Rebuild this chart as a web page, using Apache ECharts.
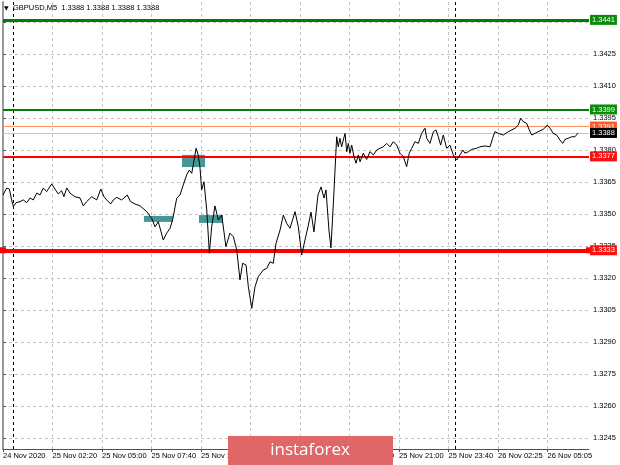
<!DOCTYPE html>
<html><head><meta charset="utf-8">
<script src="https://cdn.jsdelivr.net/npm/echarts@6/dist/echarts.min.js"></script>
<style>html,body{margin:0;padding:0;background:#fff}#c{width:620px;height:465px}</style>
</head><body><div id="c"></div>
<script>
// ---- data (bar index = 5-minute bar counted from chart's left edge) ----
const barIndex = [0,2.4,4.1,5.6,6.7,8.4,11.0,13.1,15.3,17.5,19.6,21.8,23.9,26.1,28.2,31.5,33.6,35.7,37.9,39.4,41.2,43.3,46.5,49.8,51.9,54.1,57.3,60.6,63.2,65.3,67.0,69.6,71.3,73.5,76.7,80.3,82.5,85.3,88.6,92.9,96.1,98.3,100.4,103.6,105.8,108.0,109.7,112.3,114.4,116.5,118.7,120.4,122.0,123.0,124.8,126.2,127.3,128.4,129.9,131.7,133.4,134.9,137.0,139.2,141.4,144.1,146.7,148.9,151.1,153.2,154.9,157.1,158.6,160.8,162.9,165.0,168.3,170.5,172.6,174.7,176.5,179.1,181.2,183.4,185.5,188.8,190.9,193.1,195.2,197.4,199.1,201.0,203.6,205.6,207.5,208.8,210.7,212.0,214.0,215.7,216.7,217.8,218.9,220.0,221.1,222.2,223.2,224.3,225.4,226.9,228.2,229.7,230.8,232.9,235.1,237.2,239.4,241.6,243.7,245.8,248.0,250.2,252.3,254.5,256.6,258.8,260.9,262.6,264.2,266.3,268.5,270.6,272.8,273.9,276.0,278.2,279.9,281.4,282.9,284.6,286.8,288.9,291.1,293.3,295.4,297.2,298.6,300.8,303.0,306.2,308.3,311.6,314.8,316.5,318.0,320.2,323.4,326.6,328.8,331.0,333.1,334.6,336.3,338.5,340.2,341.8,343.9,347.1,349.3,351.8,353.6,355.7,357.9,360.0,361.8,363.3,365.4,367.6,369.7,371.8];
const closePrice = [1.33589,1.33622,1.33617,1.33566,1.33534,1.33553,1.33558,1.33566,1.33553,1.33575,1.33566,1.33598,1.33589,1.33622,1.33605,1.33641,1.33617,1.33594,1.33609,1.33581,1.33622,1.33598,1.33581,1.33575,1.33538,1.33558,1.33581,1.33566,1.33617,1.33581,1.33566,1.33547,1.33566,1.33578,1.33566,1.33589,1.33558,1.33547,1.33538,1.33511,1.33480,1.33440,1.33464,1.33378,1.33410,1.33433,1.33475,1.33574,1.33589,1.33636,1.33683,1.33706,1.33691,1.33730,1.33808,1.33777,1.33722,1.33613,1.33651,1.33519,1.33316,1.33440,1.33538,1.33472,1.33495,1.33347,1.33410,1.33394,1.33331,1.33191,1.33269,1.33261,1.33159,1.33058,1.33159,1.33206,1.33238,1.33245,1.33276,1.33269,1.33363,1.33425,1.33495,1.33456,1.33433,1.33511,1.33440,1.33308,1.33378,1.33448,1.33509,1.33416,1.33589,1.33627,1.33575,1.33613,1.33425,1.33341,1.33613,1.33862,1.33815,1.33855,1.33815,1.33847,1.33878,1.33792,1.33831,1.33785,1.33823,1.33769,1.33738,1.33777,1.33745,1.33785,1.33756,1.33792,1.33777,1.33800,1.33808,1.33815,1.33831,1.33815,1.33839,1.33823,1.33785,1.33769,1.33722,1.33785,1.33808,1.33839,1.33831,1.33878,1.33902,1.33855,1.33831,1.33886,1.33894,1.33862,1.33823,1.33870,1.33808,1.33823,1.33777,1.33753,1.33777,1.33800,1.33785,1.33792,1.33803,1.33808,1.33815,1.33819,1.33815,1.33855,1.33886,1.33878,1.33870,1.33886,1.33894,1.33902,1.33917,1.33949,1.33933,1.33925,1.33894,1.33870,1.33878,1.33890,1.33897,1.33917,1.33902,1.33878,1.33870,1.33847,1.33831,1.33850,1.33855,1.33862,1.33862,1.33880];
const timeLabels = ['24 Nov 2020','25 Nov 02:20','25 Nov 05:00','25 Nov 07:40','25 Nov 10:20','25 Nov 13:00','25 Nov 15:40','25 Nov 18:20','25 Nov 21:00','25 Nov 23:40','26 Nov 02:25','26 Nov 05:05'];
const timeLabelBars = [0,32,64,96,128,160,192,224,256,288,320,352];
const priceTicks = [1.3245,1.3260,1.3275,1.3290,1.3305,1.3320,1.3335,1.3350,1.3365,1.3380,1.3395,1.3410,1.3425,1.3440];
const levels = [1.3441,1.3399,1.3391,1.3388,1.3377];
const supportLevel = [1.3333];
const separatorBars = [6.7,292.6];
const zoneStart = [91.1,115.7,126.7];
const zoneEnd = [109.9,130.6,142.2];
const zoneLow = [1.33463,1.33720,1.33458];
const zoneHigh = [1.33491,1.33777,1.33495];
const headerText = 'GBPUSD,M5  1.3388 1.3388 1.3388 1.3388';
const yMin = 1.323984, yMax = 1.344938, xMax = 378.8;

// ---- styles ----
const FONT = 'Liberation Sans';
const levelStyle = [
  {color:'#008000', width:3, bg:'#0b8a0b', fg:'#fff'},
  {color:'#008000', width:2, bg:'#0b8a0b', fg:'#fff'},
  {color:'#ff9060', width:1, bg:'#ff5a2a', fg:'#fff'},
  {color:'#cbbfe2', width:1, bg:'#000000', fg:'#fff'},
  {color:'#ff0000', width:2, bg:'#ff1010', fg:'#fff'}
];
const labelBase = {show:true, position:'end', distance:1, color:'#fff', padding:[1,2,0,2], fontSize:7.5, lineHeight:9, fontFamily:FONT};

const chart = echarts.init(document.getElementById('c'), null, {renderer:'canvas'});
const priceData = barIndex.map((b,i)=>[b, closePrice[i]]);

chart.setOption({
  animation:false,
  backgroundColor:'#ffffff',
  grid:{left:3, right:31, top:2, bottom:16, containLabel:false},
  xAxis:{
    type:'value', min:0, max:xMax, interval:16,
    axisLine:{show:true, lineStyle:{color:'#505050', width:1}},
    axisTick:{show:true, length:3, customValues:timeLabelBars, lineStyle:{color:'#505050'}},
    axisLabel:{customValues:timeLabelBars, align:'left', margin:3, fontSize:7.5, color:'#000', fontFamily:FONT,
      formatter:v=>{const k=timeLabelBars.indexOf(Math.round(v)); return k>=0?timeLabels[k]:'';}},
    splitLine:{show:true, lineStyle:{color:'#c4c4c4', type:[3,3], width:1}}
  },
  yAxis:[{
    type:'value', position:'right', min:yMin, max:yMax,
    axisLine:{show:true, lineStyle:{color:'#505050', width:1}},
    axisTick:{show:true, length:3, customValues:priceTicks, lineStyle:{color:'#505050'}},
    axisLabel:{customValues:priceTicks, margin:4, fontSize:7.5, color:'#000', fontFamily:FONT, formatter:v=>v.toFixed(4)},
    splitLine:{show:true, customValues:priceTicks, lineStyle:{color:'#c4c4c4', type:[3,3], width:1}}
  },{
    type:'value', position:'left', min:yMin, max:yMax,
    axisLine:{show:true, lineStyle:{color:'#9a9a9a', width:2}},
    axisTick:{show:false}, axisLabel:{show:false}, splitLine:{show:false}
  }],
  series:[
    { type:'line', data:[], z:2, silent:true,
      markLine:{silent:true, symbol:['none','none'], label:{show:false}, animation:false, precision:5,
        lineStyle:{color:'#000', type:[3,3], width:1},
        data:separatorBars.map(v=>({xAxis:v}))}
    },
    { type:'line', data:[], z:3, silent:true,
      markArea:{silent:true, precision:5, itemStyle:{color:'#479797', opacity:1},
        data:zoneStart.map((s,i)=>[{xAxis:s, yAxis:zoneHigh[i]},{xAxis:zoneEnd[i], yAxis:zoneLow[i]}])}
    },
    { type:'line', data:[], z:4, silent:true,
      markLine:{silent:true, animation:false, symbol:['none','none'], precision:5,
        data:levels.map((v,i)=>({yAxis:v,
          lineStyle:{color:levelStyle[i].color, width:levelStyle[i].width, type:'solid'},
          label:Object.assign({}, labelBase, {formatter:v.toFixed(4), color:levelStyle[i].fg, backgroundColor:levelStyle[i].bg})}))}
    },
    { type:'line', data:[], z:5, silent:true,
      markLine:{silent:true, animation:false, symbol:['rect','rect'], symbolSize:6, precision:5,
        itemStyle:{color:'#ff0000'},
        data:supportLevel.map(v=>({yAxis:v,
          lineStyle:{color:'#ff0000', width:4, type:'solid'},
          label:Object.assign({}, labelBase, {formatter:v.toFixed(4), backgroundColor:'#ff1010'})}))}
    },
    { type:'line', data:priceData, z:6, showSymbol:false, symbol:'none', silent:true,
      lineStyle:{color:'#000', width:1}, sampling:null }
  ],
  graphic:[
    {type:'text', left:4, top:5, z:50, style:{text:'▼', fill:'#000', font:'6px "DejaVu Sans"'}},
    {type:'text', left:13, top:4, z:50, style:{text:headerText, fill:'#000', font:'7.5px "Liberation Sans"'}},
    {type:'rect', left:228, top:436, z:100, shape:{width:165, height:29}, style:{fill:'#e06767'}},
    {type:'text', x:310, y:450, z:101, style:{text:'instaforex', fill:'#ffffff', font:'17px "Open Sans"', textAlign:'center', textVerticalAlign:'middle'}}
  ]
});
</script></body></html>
